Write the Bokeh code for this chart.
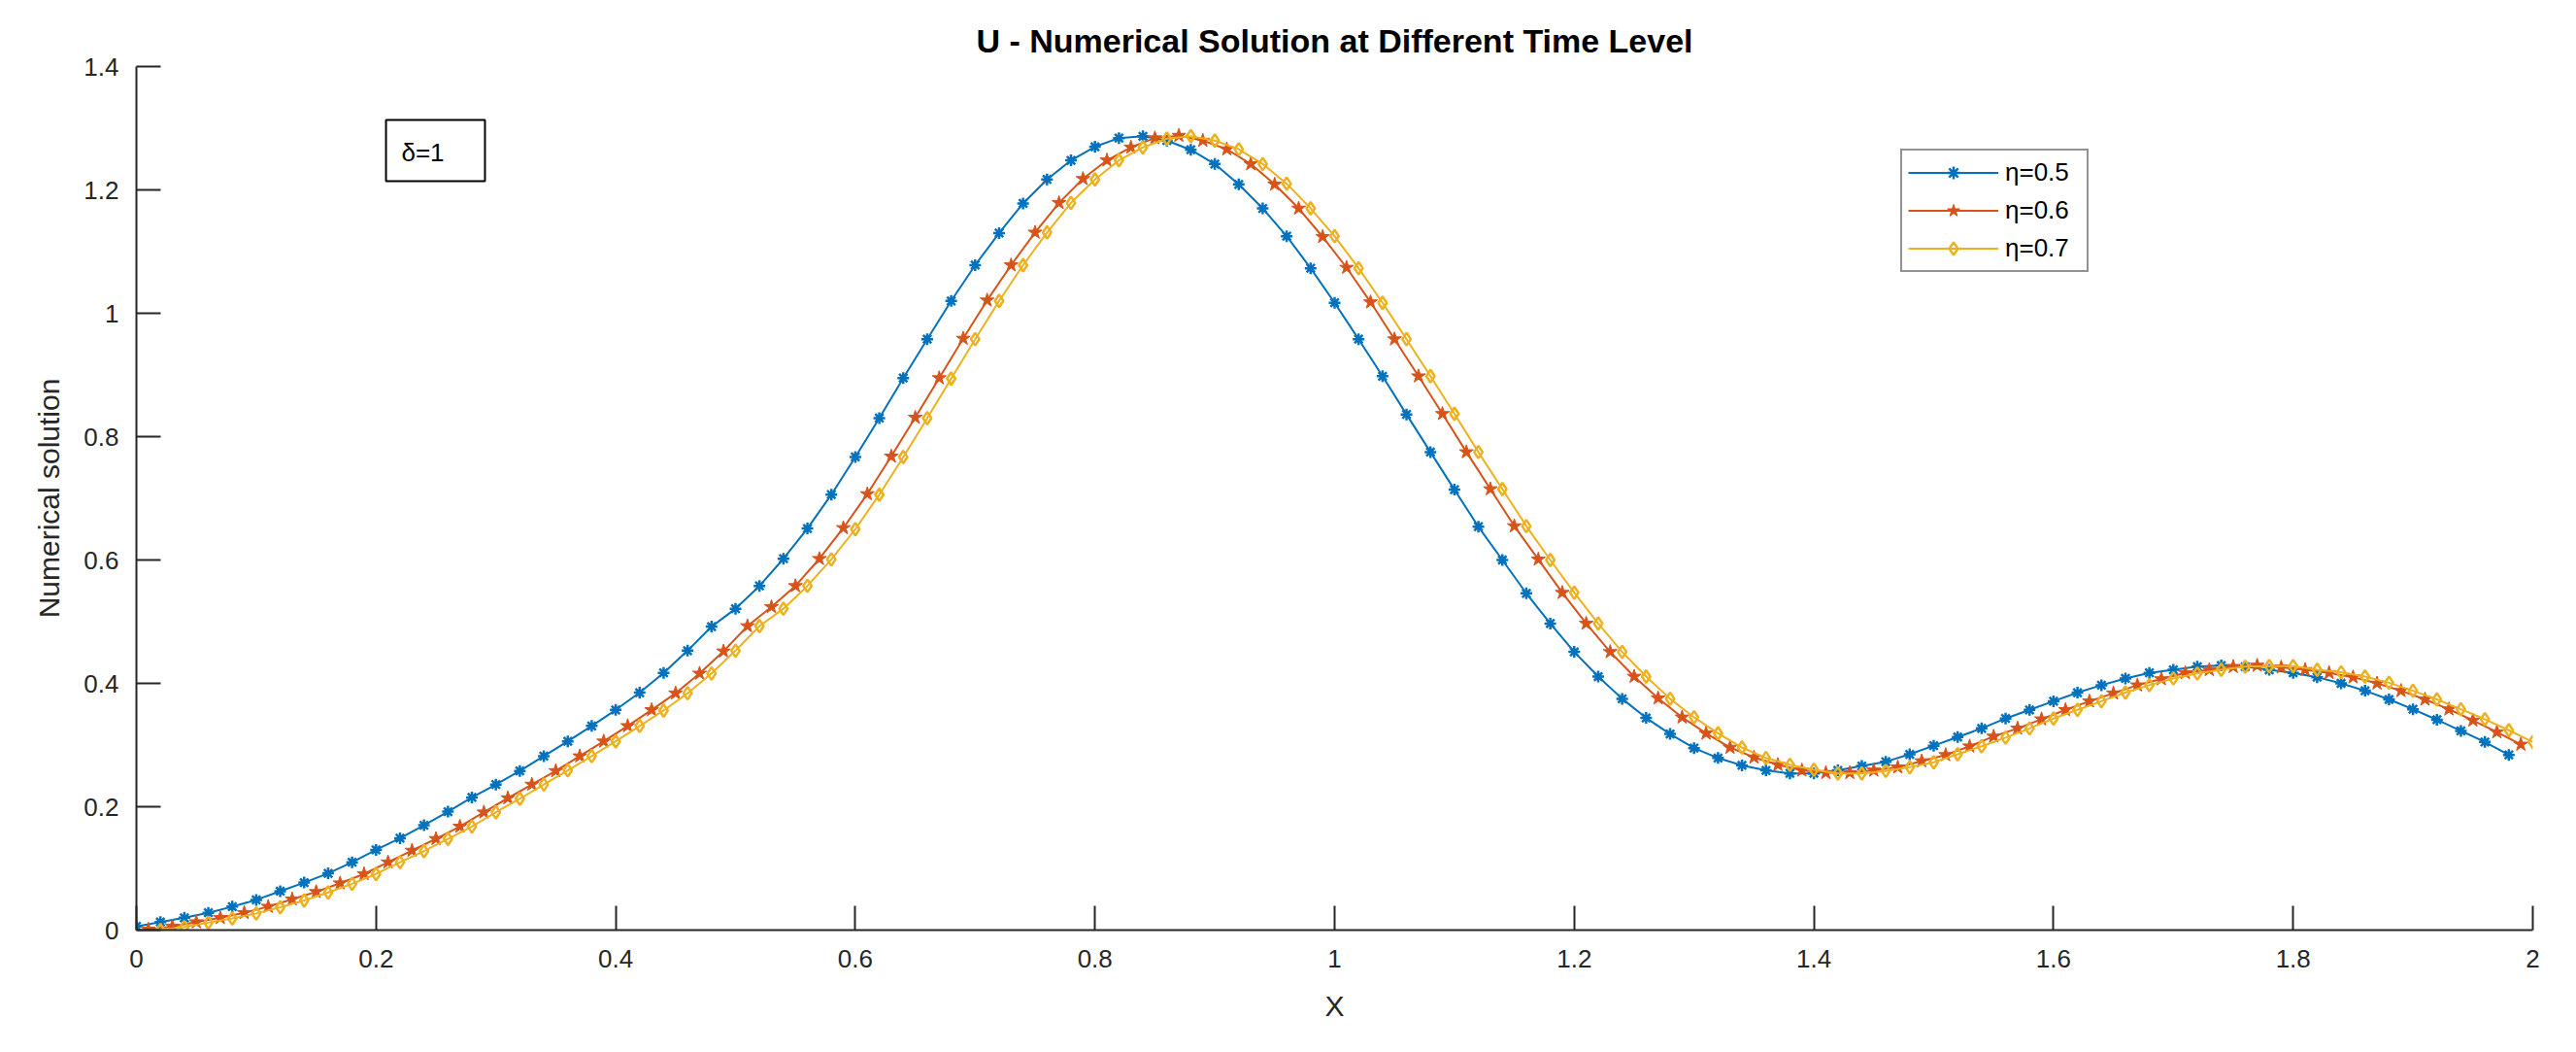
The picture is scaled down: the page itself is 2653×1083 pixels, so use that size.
import numpy as np
from bokeh.plotting import figure
from bokeh.models import Range1d, FixedTicker, Legend, LegendItem, Label, BoxAnnotation
from bokeh.embed import file_html
from bokeh.resources import INLINE

# ---- data ----
x_eta05 = np.round(np.arange(0.0, 1.99, 0.02), 2)   # 0 .. 1.98
x_eta06 = np.round(np.arange(0.01, 2.00, 0.02), 2)  # 0.01 .. 1.99
x_eta07 = np.round(np.arange(0.02, 2.01, 0.02), 2)  # 0.02 .. 2.00

u_eta05 = [
    0.006, 0.013, 0.020, 0.028, 0.038, 0.049, 0.063, 0.077, 0.092, 0.110,
    0.130, 0.149, 0.170, 0.192, 0.215, 0.236, 0.258, 0.282, 0.306, 0.331,
    0.357, 0.385, 0.417, 0.453, 0.492, 0.521, 0.558, 0.602, 0.651, 0.706,
    0.767, 0.830, 0.895, 0.958, 1.020, 1.078, 1.130, 1.178, 1.217, 1.248,
    1.270, 1.284, 1.287, 1.280, 1.265, 1.242, 1.209, 1.170, 1.125, 1.073,
    1.017, 0.958, 0.898, 0.836, 0.775, 0.714, 0.654, 0.600, 0.546, 0.497,
    0.451, 0.411, 0.375, 0.344, 0.318, 0.295, 0.279, 0.267, 0.259, 0.254,
    0.254, 0.259, 0.266, 0.273, 0.285, 0.299, 0.313, 0.327, 0.343, 0.357,
    0.371, 0.385, 0.397, 0.408, 0.417, 0.422, 0.427, 0.429, 0.427, 0.422,
    0.417, 0.410, 0.400, 0.388, 0.374, 0.358, 0.341, 0.323, 0.305, 0.284,
]
u_eta06 = [
    0.001, 0.006, 0.013, 0.020, 0.028, 0.038, 0.050, 0.062, 0.076, 0.091,
    0.110, 0.129, 0.148, 0.168, 0.191, 0.214, 0.236, 0.258, 0.282, 0.306,
    0.331, 0.357, 0.384, 0.416, 0.452, 0.493, 0.524, 0.558, 0.602, 0.652,
    0.707, 0.768, 0.831, 0.895, 0.959, 1.021, 1.078, 1.131, 1.179, 1.218,
    1.248, 1.269, 1.284, 1.288, 1.280, 1.266, 1.242, 1.209, 1.170, 1.124,
    1.074, 1.018, 0.958, 0.898, 0.837, 0.775, 0.715, 0.655, 0.601, 0.547,
    0.497, 0.451, 0.411, 0.376, 0.345, 0.319, 0.296, 0.280, 0.268, 0.259,
    0.255, 0.255, 0.259, 0.264, 0.274, 0.284, 0.298, 0.314, 0.327, 0.342,
    0.357, 0.371, 0.384, 0.397, 0.407, 0.417, 0.422, 0.427, 0.429, 0.426,
    0.422, 0.417, 0.410, 0.400, 0.388, 0.374, 0.358, 0.340, 0.321, 0.301,
]
u_eta07 = [
    0.000, 0.005, 0.012, 0.019, 0.027, 0.037, 0.048, 0.061, 0.075, 0.091,
    0.110, 0.128, 0.148, 0.168, 0.191, 0.213, 0.236, 0.259, 0.282, 0.306,
    0.331, 0.356, 0.384, 0.416, 0.453, 0.493, 0.521, 0.558, 0.601, 0.650,
    0.706, 0.767, 0.830, 0.894, 0.958, 1.020, 1.078, 1.131, 1.179, 1.217,
    1.248, 1.269, 1.283, 1.287, 1.280, 1.266, 1.242, 1.210, 1.170, 1.125,
    1.073, 1.017, 0.958, 0.898, 0.837, 0.775, 0.715, 0.655, 0.600, 0.547,
    0.497, 0.451, 0.411, 0.375, 0.345, 0.319, 0.296, 0.279, 0.268, 0.260,
    0.254, 0.254, 0.258, 0.264, 0.272, 0.285, 0.298, 0.312, 0.327, 0.343,
    0.357, 0.371, 0.385, 0.397, 0.408, 0.416, 0.422, 0.427, 0.428, 0.428,
    0.422, 0.418, 0.411, 0.401, 0.388, 0.374, 0.358, 0.342, 0.324, 0.305,
]

series_labels = ["η=0.5", "η=0.6", "η=0.7"]
x_ticks = [0, 0.2, 0.4, 0.6, 0.8, 1, 1.2, 1.4, 1.6, 1.8, 2]
x_tick_labels = ["0", "0.2", "0.4", "0.6", "0.8", "1", "1.2", "1.4", "1.6", "1.8", "2"]
y_ticks = [0, 0.2, 0.4, 0.6, 0.8, 1, 1.2, 1.4]
y_tick_labels = ["0", "0.2", "0.4", "0.6", "0.8", "1", "1.2", "1.4"]

FONT = "Liberation Sans"
AX = "#262626"
C1, C2, C3 = "#0072BD", "#D95319", "#EDB120"

p = figure(frame_width=2468, frame_height=889,
           x_range=Range1d(0, 2), y_range=Range1d(0, 1.4),
           output_backend="svg", toolbar_location=None,
           min_border_left=140, min_border_right=29,
           min_border_top=68, min_border_bottom=110,
           background_fill_color="white", border_fill_color="white")
p.grid.visible = False
p.outline_line_color = None

p.title.text = "U - Numerical Solution at Different Time Level"
p.title.align = "center"
p.title.text_font = FONT
p.title.text_font_size = "34px"
p.title.text_font_style = "bold"
p.title.text_color = "black"
p.title.standoff = 16

for ax, ticks, labels in ((p.xaxis[0], x_ticks, x_tick_labels), (p.yaxis[0], y_ticks, y_tick_labels)):
    ax.ticker = FixedTicker(ticks=ticks, minor_ticks=[])
    ax.major_label_overrides = {t: l for t, l in zip(ticks, labels)}
    ax.axis_line_color = AX
    ax.axis_line_width = 2
    ax.major_tick_line_color = AX
    ax.major_tick_line_width = 2
    ax.major_tick_in = 25
    ax.major_tick_out = 0
    ax.minor_tick_line_color = None
    ax.major_label_text_font = FONT
    ax.major_label_text_font_size = "26px"
    ax.major_label_text_color = AX
    ax.axis_label_text_font = FONT
    ax.axis_label_text_font_style = "normal"
    ax.axis_label_text_color = AX
    ax.axis_label_text_font_size = "30px"

p.xaxis.axis_label = "X"
p.xaxis.major_label_standoff = 20
p.xaxis.axis_label_standoff = 20
p.yaxis.axis_label = "Numerical solution"
p.yaxis.major_label_standoff = 18
p.yaxis.axis_label_standoff = 16

l1 = p.line(x_eta05, u_eta05, line_color=C1, line_width=2)
s1 = p.scatter(x_eta05, u_eta05, marker="asterisk", size=12, line_color=C1, line_width=2.5)
l2 = p.line(x_eta06, u_eta06, line_color=C2, line_width=2)
s2 = p.scatter(x_eta06, u_eta06, marker="star", size=15, line_color=C2, fill_color=C2, line_width=1)
l3 = p.line(x_eta07, u_eta07, line_color=C3, line_width=2)
s3 = p.scatter(x_eta07, u_eta07, marker="diamond", size=13, line_color=C3, fill_color=None, line_width=2.5)

legend = Legend(items=[
    LegendItem(label=series_labels[0], renderers=[l1, s1]),
    LegendItem(label=series_labels[1], renderers=[l2, s2]),
    LegendItem(label=series_labels[2], renderers=[l3, s3]),
], location=(1817, 677))
legend.margin = 0
legend.padding = 6
legend.spacing = 6
legend.glyph_width = 93
legend.glyph_height = 33
legend.label_height = 33
legend.label_width = 78
legend.label_standoff = 7
legend.label_text_font = FONT
legend.label_text_font_size = "26px"
legend.label_text_color = "black"
legend.border_line_color = AX
legend.border_line_width = 2
legend.background_fill_color = "white"
legend.background_fill_alpha = 1
p.add_layout(legend)

box = BoxAnnotation(left=0.2083, right=0.2909, bottom=1.2142, top=1.3134,
                    fill_color="white", fill_alpha=1,
                    line_color="black", line_width=2, line_alpha=1)
p.add_layout(box)
p.add_layout(Label(x=0.2212, y=1.2614, text="δ=1", text_font=FONT,
                   text_font_size="26px", text_color="black",
                   text_align="left", text_baseline="middle"))

open("out.html", "w").write(file_html(p, INLINE))
